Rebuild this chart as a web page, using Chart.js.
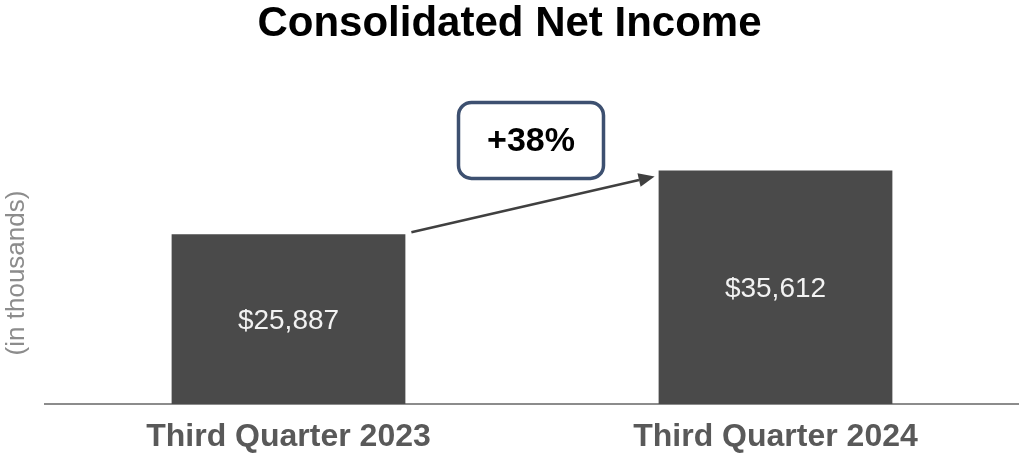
<!DOCTYPE html>
<html>
<head>
<meta charset="utf-8">
<script src="https://cdn.jsdelivr.net/npm/chart.js@4"></script>
<style>
  html, body { margin: 0; padding: 0; background: #fff; }
  #wrap { width: 1019px; height: 453px; position: relative; }
</style>
</head>
<body>
<div id="wrap"><canvas id="c"></canvas></div>
<script>
const categories = ["Third Quarter 2023", "Third Quarter 2024"];
const netIncome = [25887, 35612];
const valueLabels = ["$25,887", "$35,612"];
const changeLabel = "+38%";
const yAxisTitle = "(in thousands)";
const chartTitle = "Consolidated Net Income";

const FONT = "'Liberation Sans', Arial, sans-serif";

const overlay = {
  id: 'overlay',
  afterDatasetsDraw(chart) {
    const ctx = chart.ctx;
    const meta = chart.getDatasetMeta(0);
    ctx.save();
    // value labels inside bars
    ctx.fillStyle = '#f2f2f2';
    ctx.font = "28px " + FONT;
    ctx.textAlign = 'center';
    ctx.textBaseline = 'middle';
    meta.data.forEach((bar, i) => {
      const mid = (bar.y + bar.base) / 2;
      ctx.fillText(valueLabels[i], bar.x, mid + 2);
    });
    // arrow between bars
    const b0 = meta.data[0], b1 = meta.data[1];
    const x0 = b0.x + b0.width / 2 + 6, y0 = b0.y - 2;
    const x1 = b1.x - b1.width / 2 - 4, y1 = b1.y + 6;
    ctx.strokeStyle = '#404040';
    ctx.fillStyle = '#404040';
    ctx.lineWidth = 2.5;
    const ang = Math.atan2(y1 - y0, x1 - x0);
    const hl = 16, hw = 7;
    const bx = x1 - hl * Math.cos(ang), by = y1 - hl * Math.sin(ang);
    ctx.beginPath();
    ctx.moveTo(x0, y0);
    ctx.lineTo(bx, by);
    ctx.stroke();
    ctx.beginPath();
    ctx.moveTo(x1, y1);
    ctx.lineTo(bx + hw * Math.sin(ang), by - hw * Math.cos(ang));
    ctx.lineTo(bx - hw * Math.sin(ang), by + hw * Math.cos(ang));
    ctx.closePath();
    ctx.fill();
    // change box
    const cx = (b0.x + b1.x) / 2 - 1, cy = b1.y - 30;
    const bw = 145, bh = 76, r = 13;
    const left = cx - bw / 2, top = cy - bh / 2;
    ctx.beginPath();
    ctx.roundRect(left, top, bw, bh, r);
    ctx.fillStyle = '#ffffff';
    ctx.fill();
    ctx.lineWidth = 3.5;
    ctx.strokeStyle = '#3d5070';
    ctx.stroke();
    ctx.fillStyle = '#000';
    ctx.font = "bold 34px " + FONT;
    ctx.fillText(changeLabel, cx, cy + 1);
    // y-axis title
    ctx.translate(17, 273);
    ctx.rotate(-Math.PI / 2);
    ctx.fillStyle = '#8c8c8c';
    ctx.font = "26px " + FONT;
    ctx.fillText(yAxisTitle, 0, 0);
    ctx.restore();
  }
};

new Chart(document.getElementById('c'), {
  type: 'bar',
  data: {
    labels: categories,
    datasets: [{
      data: netIncome,
      backgroundColor: '#4a4a4a',
      borderWidth: 0,
      barPercentage: 0.6,
      categoryPercentage: 0.8
    }]
  },
  options: {
    responsive: true,
    maintainAspectRatio: false,
    animation: false,
    layout: { padding: { left: 0, right: 0, top: 0, bottom: 0 } },
    plugins: {
      legend: { display: false },
      tooltip: { enabled: false },
      title: {
        display: true,
        text: chartTitle,
        color: '#000',
        font: { family: FONT, size: 42, weight: 'bold', lineHeight: 1 },
        padding: { top: 3, bottom: 31 }
      }
    },
    scales: {
      x: {
        grid: { display: false, drawTicks: false },
        border: { display: true, color: '#8c8c8c', width: 2 },
        ticks: {
          color: '#595959',
          font: { family: FONT, size: 32, weight: 'bold', lineHeight: 1.2 },
          padding: 14,
          maxRotation: 0
        },
        afterFit(scale) { scale.height = 49; }
      },
      y: {
        display: true,
        min: 0,
        max: 50000,
        grid: { display: false, drawTicks: false },
        border: { display: false },
        ticks: { display: false },
        afterFit(scale) { scale.width = 45; }
      }
    }
  },
  plugins: [overlay]
});
</script>
</body>
</html>
